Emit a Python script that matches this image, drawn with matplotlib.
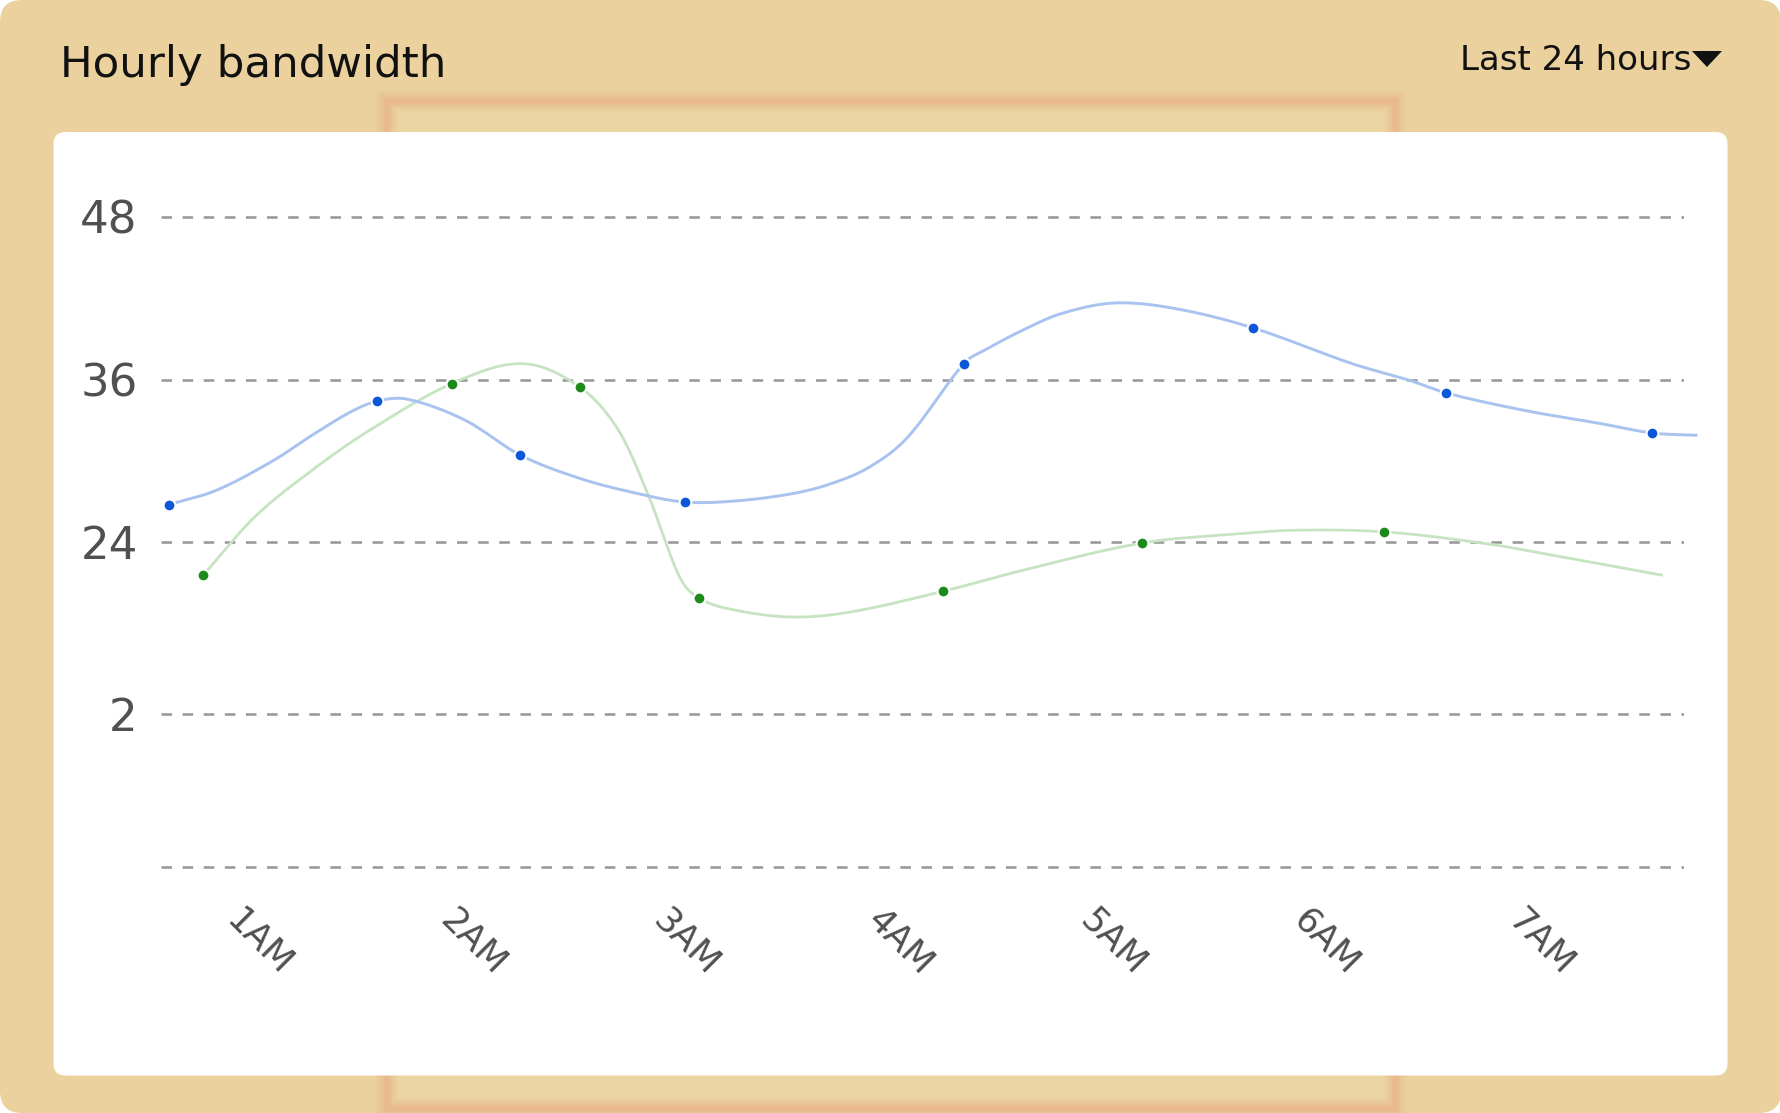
import numpy as np
import matplotlib
matplotlib.use("Agg")
import matplotlib.pyplot as plt
from matplotlib.patches import FancyBboxPatch, Rectangle, Polygon
from matplotlib.transforms import Affine2D

# ---------------- data ----------------
hour_labels = ["1AM", "2AM", "3AM", "4AM", "5AM", "6AM", "7AM"]
hour_ticks = [1, 2, 3, 4, 5, 6, 7]

# dots (x in hours, y in bandwidth units)
blue_dot_x = [0.577, 1.554, 2.222, 2.995, 4.301, 5.656, 6.559, 7.525]
blue_dot_y = [26.76, 34.41, 30.43, 26.95, 37.17, 39.81, 35.01, 32.05]
green_dot_x = [0.738, 1.904, 2.502, 3.063, 4.204, 5.138, 6.269]
green_dot_y = [21.54, 35.70, 35.45, 19.84, 20.36, 23.93, 24.75]

# smoothed line as drawn
blue_line_x = [0.577, 0.801, 1.069, 1.248, 1.429, 1.554, 1.697, 1.966, 2.222, 2.504,
               2.773, 2.995, 3.232, 3.501, 3.680, 3.860, 4.039, 4.301, 4.397, 4.577,
               4.756, 5.007, 5.294, 5.656, 6.120, 6.388, 6.559, 6.926, 7.285, 7.525, 7.737]
blue_line_y = [26.76, 27.82, 30.03, 31.88, 33.60, 34.41, 34.54, 32.99, 30.43, 28.69,
               27.58, 26.95, 27.03, 27.58, 28.31, 29.54, 31.75, 37.17, 38.15, 39.64,
               40.86, 41.65, 41.23, 39.81, 37.17, 35.94, 35.01, 33.72, 32.74, 32.05, 31.88]
green_line_x = [0.738, 0.980, 1.249, 1.518, 1.904, 2.235, 2.502, 2.684, 2.827, 2.970,
                3.063, 3.232, 3.501, 3.770, 4.204, 4.577, 5.138, 5.594, 5.851, 6.269,
                6.747, 7.105, 7.575]
green_line_y = [21.54, 25.85, 29.30, 32.25, 35.70, 37.17, 35.45, 32.25, 27.32, 21.42,
                19.84, 18.96, 18.46, 18.83, 20.36, 21.91, 23.93, 24.61, 24.87, 24.75,
                23.88, 22.89, 21.54]

y_ticks = [0, 11.3, 24, 36, 48]
y_labels = ["", "2", "24", "36", "48"]

title = "Hourly bandwidth"
range_label = "Last 24 hours"

# ---------------- helpers ----------------
def catmull_rom(x, y, n_per=30):
    """Cubic Hermite with Catmull-Rom (neighbour secant) slopes, y as a function of x."""
    x = np.asarray(x, float)
    y = np.asarray(y, float)
    h = np.diff(x)
    n = len(x)
    m = np.zeros(n)
    for i in range(1, n - 1):
        m[i] = (y[i + 1] - y[i - 1]) / (x[i + 1] - x[i - 1])
    m[0] = (y[1] - y[0]) / h[0]
    m[-1] = (y[-1] - y[-2]) / h[-1]
    xs, ys = [], []
    for i in range(n - 1):
        t = np.linspace(0, 1, n_per, endpoint=(i == n - 2))
        h00 = 2 * t ** 3 - 3 * t ** 2 + 1
        h10 = t ** 3 - 2 * t ** 2 + t
        h01 = -2 * t ** 3 + 3 * t ** 2
        h11 = t ** 3 - t ** 2
        xs.append(x[i] + t * h[i])
        ys.append(h00 * y[i] + h10 * h[i] * m[i] + h01 * y[i + 1] + h11 * h[i] * m[i + 1])
    return np.concatenate(xs), np.concatenate(ys)

W, H = 1781, 1113
fig = plt.figure(figsize=(W / 100, H / 100), dpi=100)
fig.patch.set_facecolor("white")
px = Affine2D().scale(1, -1).translate(0, H).scale(1 / W, 1 / H) + fig.transFigure

# outer tan panel
fig.patches.append(FancyBboxPatch((0, 0), W, H, boxstyle="round,pad=0,rounding_size=22",
                                  transform=px, facecolor="#ead19e", edgecolor="none", zorder=-10))
# faint orange glow rectangle
gx0, gy0, gx1, gy1 = 387, 101, 1395, 1108
fig.patches.append(Rectangle((gx0, gy0), gx1 - gx0, gy1 - gy0, transform=px,
                             facecolor="#ebd5a3", edgecolor="none", zorder=-9))
for lw, al in [(22, 0.10), (18, 0.12), (14, 0.16), (10, 0.22), (7, 0.3), (4, 0.4)]:
    fig.patches.append(Rectangle((gx0, gy0), gx1 - gx0, gy1 - gy0, transform=px,
                                 facecolor="none", edgecolor="#e8b488", lw=lw * 0.72,
                                 alpha=al, zorder=-8))
# white card
fig.patches.append(FancyBboxPatch((53.5, 132), 1727.5 - 53.5, 1075.5 - 132,
                                  boxstyle="round,pad=0,rounding_size=12", transform=px,
                                  facecolor="white", edgecolor="none", zorder=-7))

# title & dropdown
fig.text(60 / W, 1 - 77 / H, title, fontsize=31.3, color="#111111", ha="left", va="baseline")
fig.text(1460 / W, 1 - 70 / H, range_label, fontsize=24.5, color="#111111", ha="left", va="baseline")
fig.patches.append(Polygon([(1692, 51), (1722, 51), (1707, 67)], closed=True, transform=px,
                           facecolor="#111111", edgecolor="none", zorder=5))

# ---------------- axes ----------------
y0_px, y48_px = 867.0, 217.0
ppu = (y0_px - y48_px) / 48
ylo, yhi = -1.0, 49.0
ax_top = y48_px - (yhi - 48) * ppu
ax_bot = y0_px + (0 - ylo) * ppu
ax_left, ax_right = 161.3, 1684.4
ax = fig.add_axes([ax_left / W, 1 - ax_bot / H, (ax_right - ax_left) / W, (ax_bot - ax_top) / H])
ax.set_facecolor("none")
ax.set_ylim(ylo, yhi)
ax.set_xlim(0.5426, 7.676)
for s in ax.spines.values():
    s.set_visible(False)

ax.set_yticks(y_ticks, y_labels)
ax.set_xticks(hour_ticks, hour_labels)
ax.tick_params(axis="y", length=0, pad=17, labelsize=32.5, labelcolor="#505050")
ax.tick_params(axis="x", length=0, pad=16, labelsize=25.5, labelcolor="#505050")
for lab in ax.get_xticklabels():
    lab.set_rotation(-45)
    lab.set_ha("center")
ax.yaxis.grid(True, linestyle=(0, (4, 4)), color="#9a9a9a", lw=1.9)
ax.xaxis.grid(False)
ax.set_axisbelow(True)

# series
gxs, gys = catmull_rom(green_line_x, green_line_y)
bxs, bys = catmull_rom(blue_line_x, blue_line_y)
ax.plot(gxs, gys, color="#c6e4c1", lw=2.0, clip_on=False, zorder=2,
        solid_capstyle="butt", solid_joinstyle="round")
ax.plot(bxs, bys, color="#a8c3ef", lw=2.1, clip_on=False, zorder=2,
        solid_capstyle="butt", solid_joinstyle="round")
ax.plot(green_dot_x, green_dot_y, ls="none", marker="o", ms=8.5,
        mfc="#1b8a1b", mec="white", mew=1.5, zorder=3, clip_on=False)
ax.plot(blue_dot_x, blue_dot_y, ls="none", marker="o", ms=8.5,
        mfc="#0b57d8", mec="white", mew=1.5, zorder=3, clip_on=False)

fig.savefig("out.png", dpi=100, facecolor=fig.get_facecolor())
